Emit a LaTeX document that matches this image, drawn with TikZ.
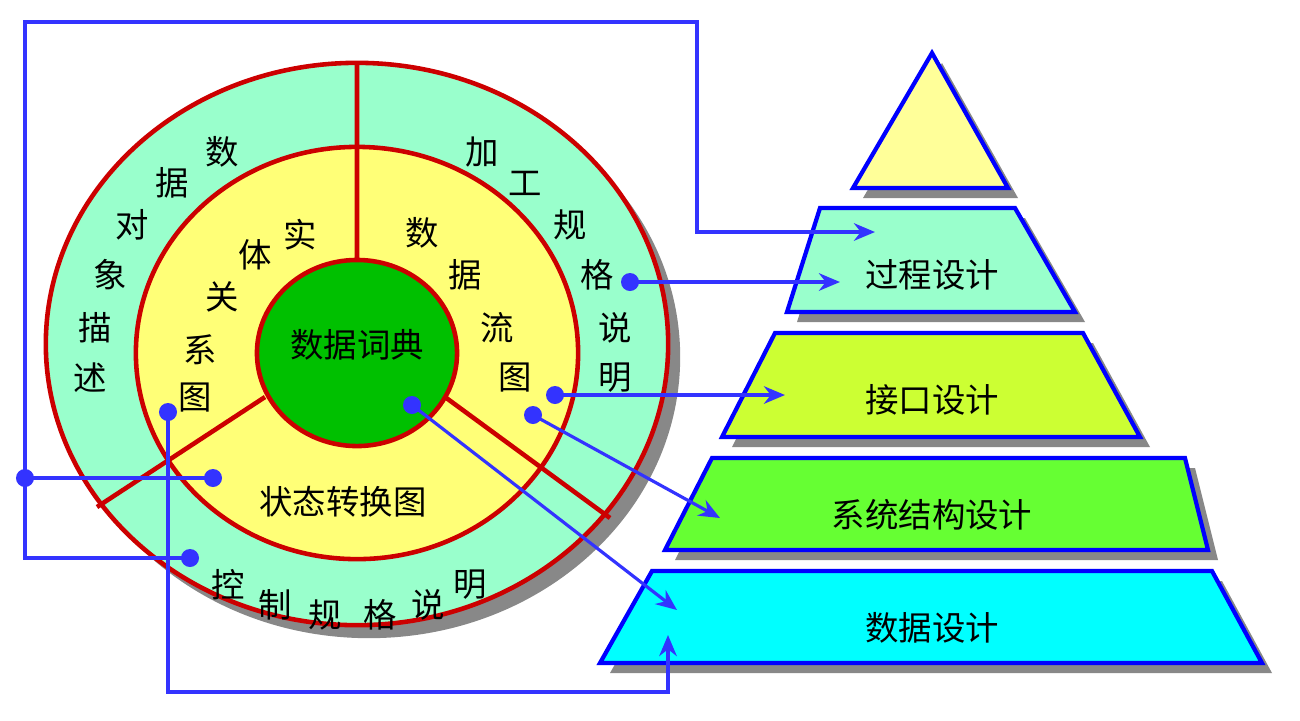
\documentclass[tikz,border=0pt]{standalone}
\usepackage{fontspec}
\setmainfont{Noto Sans CJK SC}
\usetikzlibrary{arrows.meta}
\definecolor{ringA}{HTML}{99FFCC}
\definecolor{ringB}{HTML}{FFFF77}
\definecolor{coreG}{HTML}{00C000}
\definecolor{redb}{HTML}{CC0000}
\definecolor{blueb}{HTML}{0000FF}
\definecolor{conn}{HTML}{3333FF}
\definecolor{shadowc}{HTML}{888888}
\definecolor{cyanf}{HTML}{00FFFF}
\definecolor{topf}{HTML}{FFFF99}
\definecolor{lvlB}{HTML}{CCFF33}
\definecolor{lvlC}{HTML}{66FF33}
\tikzset{
  ch/.style={font=\fontsize{9.5pt}{10pt}\selectfont, inner sep=0pt},
  lvl/.style={draw=blueb, line width=1.2pt, line join=miter},
  shd/.style={fill=shadowc, draw=none},
  link/.style={draw=conn, line width=0.9pt, -{Stealth[length=6pt,width=5pt]}},
  plain/.style={draw=conn, line width=0.9pt},
  dotc/.style={fill=conn},
}
\begin{document}
\begin{tikzpicture}[x=0.01cm,y=-0.01cm]
\useasboundingbox (0,0) rectangle (1300,720);
% circle diagram
\fill[shadowc] (369,357) ellipse [x radius=3.11cm, y radius=2.81cm];
\filldraw[fill=ringA, draw=redb, line width=1.3pt] (357,344) ellipse [x radius=3.11cm, y radius=2.81cm];
\filldraw[fill=ringB, draw=redb, line width=1.3pt] (357,353) ellipse [x radius=2.21cm, y radius=2.06cm];
\draw[redb, line width=1.3pt] (357,63) -- (357,260) (265,397) -- (97,507) (445,397) -- (610,518);
\filldraw[fill=coreG, draw=redb, line width=1.3pt] (357,353) ellipse [x radius=1.0cm, y radius=0.93cm];
% texts
\node[ch] (c0) at (357,345) {数据词典};
\node[ch] (s0) at (343,502) {状态转换图};
\foreach \t/\x/\y [count=\i] in {数/222/152,据/172/183,对/132/225,象/110/275,描/95/328,述/90/378,
  加/482/152,工/525/183,规/570/225,格/597/275,说/615/328,明/615/378,
  控/228/585,制/275/605,规/325/615,格/380/615,说/428/605,明/470/585,
  实/300/235,体/255/255,关/222/297,系/200/350,图/195/398,
  数/422/233,据/465/275,流/497/328,图/515/378}
  \node[ch] (t\i) at (\x,\y) {\t};
% pyramid shadows
\fill[shd] (942,63) -- (1018,198) -- (863,198) -- cycle;
\fill[shd] (830,218) -- (1025,218) -- (1085,322) -- (797,322) -- cycle;
\fill[shd] (785,343) -- (1093,343) -- (1150,447) -- (732,447) -- cycle;
\fill[shd] (722,468) -- (1195,468) -- (1218,560) -- (675,560) -- cycle;
\fill[shd] (662,581) -- (1222,581) -- (1272,673) -- (610,673) -- cycle;
% pyramid
\filldraw[lvl, fill=topf] (932,53) -- (1008,188) -- (853,188) -- cycle;
\filldraw[lvl, fill=ringA] (820,208) -- (1015,208) -- (1075,312) -- (787,312) -- cycle;
\filldraw[lvl, fill=lvlB] (775,333) -- (1083,333) -- (1140,437) -- (722,437) -- cycle;
\filldraw[lvl, fill=lvlC] (712,458) -- (1185,458) -- (1208,550) -- (665,550) -- cycle;
\filldraw[lvl, fill=cyanf] (652,571) -- (1212,571) -- (1262,663) -- (600,663) -- cycle;
\node[ch] (p1) at (932,275) {过程设计};
\node[ch] (p2) at (932,400) {接口设计};
\node[ch] (p3) at (932,515) {系统结构设计};
\node[ch] (p4) at (932,628) {数据设计};
% connectors
\coordinate (d1) at (190,558); \coordinate (e1) at (875,232);
\coordinate (d2) at (630,282); \coordinate (e2) at (840,282);
\coordinate (d3) at (555,395); \coordinate (e3) at (785,395);
\coordinate (d4) at (533,415); \coordinate (e4) at (720,518);
\coordinate (d5) at (412,405); \coordinate (e5) at (677,610);
\coordinate (d6) at (168,412); \coordinate (e6) at (668,635);
\coordinate (d7) at (25,478); \coordinate (d8) at (213,478);
\draw[link] (d1) -- (25,558) -- (25,22) -- (697,22) -- (697,232) -- (e1);
\draw[link] (d2) -- (e2);
\draw[link] (d3) -- (e3);
\draw[link] (d4) -- (e4);
\draw[link] (d5) -- (e5);
\draw[link] (d6) -- (168,692) -- (668,692) -- (e6);
\draw[plain] (d7) -- (d8);
\foreach \d in {d1,d2,d3,d4,d5,d6,d7,d8} \fill[dotc] (\d) circle (0.09cm);
\end{tikzpicture}
\end{document}
